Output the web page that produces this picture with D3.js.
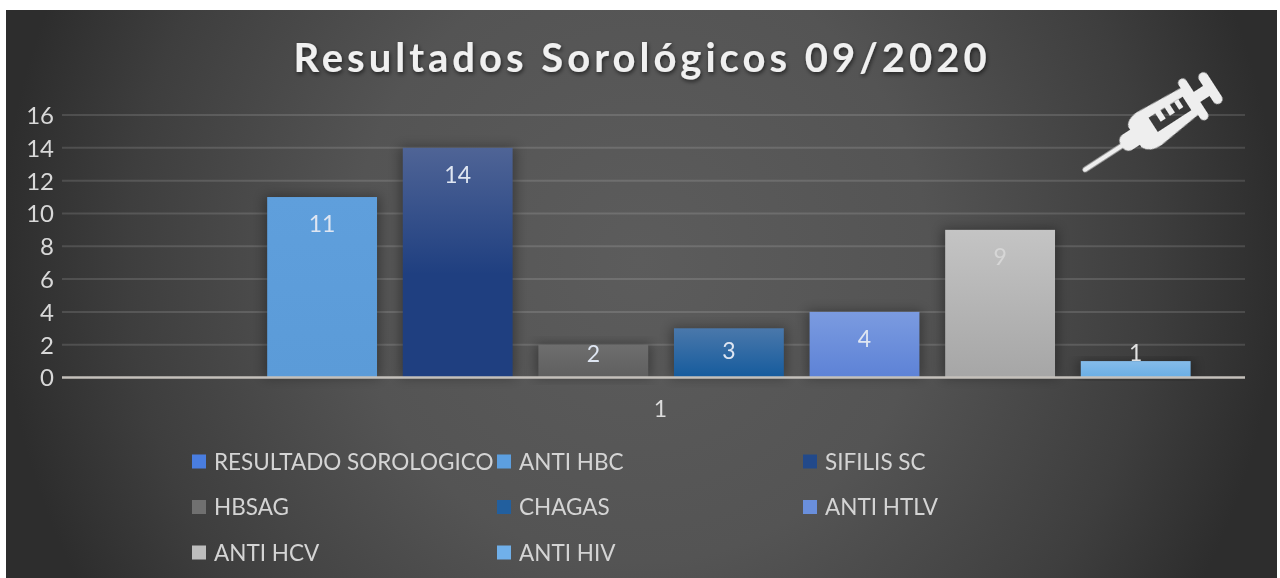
<!DOCTYPE html>
<html><head><meta charset="utf-8">
<script src="https://cdn.jsdelivr.net/npm/d3@7"></script>
<style>html,body{margin:0;padding:0;background:#fff;overflow:hidden}svg{display:block}text{font-family:Lato,"Open Sans",sans-serif}</style>
</head><body><div id="c"></div>
<script>
const titleText = "Resultados Sorológicos 09/2020";
const seriesNames = ["RESULTADO SOROLOGICO","ANTI HBC","SIFILIS SC","HBSAG","CHAGAS","ANTI HTLV","ANTI HCV","ANTI HIV"];
const seriesValues = [0,11,14,2,3,4,9,1];
const yTicks = [0,2,4,6,8,10,12,14,16];
const categoryLabel = "1";
const topColors = ["#4a7bd0","#5f9fdc","#4f6496","#6e6e6e","#4a78ab","#7b9be0","#c4c4c4","#85bcea"];
const bottomColors = ["#3a6cc4","#5b9bd8","#1f3f80","#5f5f5f","#155b9d","#5d82d6","#a6a6a6","#6aaee4"];
const legendColors = ["#4a7de0","#5b9fe0","#204a8a","#707070","#225f9e","#6a8fdc","#bdbdbd","#70b0ea"];

const W=1280,H=578;
const svg=d3.select("#c").append("svg").attr("width",W).attr("height",H);
const defs=svg.append("defs");
const card={x:6,y:10,w:1271,h:568};
const bg=defs.append("radialGradient").attr("id","bg").attr("gradientUnits","userSpaceOnUse")
 .attr("cx",640).attr("cy",260).attr("r",640).attr("gradientTransform","translate(640 260) scale(1 1.05) translate(-640 -260)");
[[0,"#5c5c5c"],[0.45,"#545454"],[0.8,"#3e3e3e"],[1,"#2d2d2d"]].forEach(([o,c])=>bg.append("stop").attr("offset",o).attr("stop-color",c));
const blur=defs.append("filter").attr("id","sh").attr("x","-20%").attr("y","-20%").attr("width","140%").attr("height","140%");
blur.append("feGaussianBlur").attr("stdDeviation",6);
const tsh=defs.append("filter").attr("id","tsh").attr("x","-5%").attr("y","-20%").attr("width","110%").attr("height","150%");
tsh.append("feDropShadow").attr("dx",1).attr("dy",2).attr("stdDeviation",2).attr("flood-color","#000").attr("flood-opacity",.6);
const soft=defs.append("filter").attr("id","soft").attr("x","-10%").attr("y","-30%").attr("width","120%").attr("height","160%");
soft.append("feGaussianBlur").attr("stdDeviation",.5);
seriesNames.forEach((n,i)=>{
 const g=defs.append("linearGradient").attr("id","g"+i).attr("x1",0).attr("y1",0).attr("x2",0).attr("y2",1);
 g.append("stop").attr("offset",0).attr("stop-color",topColors[i]);
 g.append("stop").attr("offset",i==2?.55:1).attr("stop-color",bottomColors[i]);
 if(i==2)g.append("stop").attr("offset",1).attr("stop-color",bottomColors[i]);
});
svg.append("rect").attr("x",card.x).attr("y",card.y).attr("width",card.w).attr("height",card.h).attr("fill","url(#bg)");

const y=d3.scaleLinear().domain([0,16]).range([377.5,115]);
const x=d3.scaleBand().domain(seriesNames).range([118.7,1203.5]).paddingInner(.19).paddingOuter(.095);
const plotL=62,plotR=1245;

const grid=svg.append("g");
grid.selectAll("line").data(yTicks.filter(d=>d>0)).join("line")
 .attr("x1",plotL).attr("x2",plotR).attr("y1",d=>y(d)).attr("y2",d=>y(d))
 .attr("stroke","#ffffff").attr("stroke-opacity",.13).attr("stroke-width",2);

const axisL=d3.axisLeft(y).tickValues(yTicks).tickSize(0).tickPadding(0);
const ga=svg.append("g").attr("transform","translate(54,0)").call(axisL);
ga.select(".domain").remove();
ga.selectAll("text").attr("fill","#d8d8d8").attr("font-size",24).attr("x",0).attr("dy","0.35em").attr("filter","url(#soft)");

const marks=seriesValues.map((v,i)=>({v,name:seriesNames[i],i}));
const bars=svg.append("g");
bars.selectAll("rect.s").data(marks).join("rect").attr("class","s")
 .attr("x",d=>x(d.name)-3).attr("width",x.bandwidth()+6)
 .attr("y",d=>y(d.v)-1).attr("height",d=>y(0)-y(d.v)+1).attr("fill","#000").attr("opacity",d=>d.v>0?.32:0).attr("filter","url(#sh)");
bars.selectAll("rect.b").data(marks).join("rect").attr("class","b")
 .attr("x",d=>x(d.name)).attr("width",x.bandwidth())
 .attr("y",d=>y(d.v)).attr("height",d=>y(0)-y(d.v)).attr("fill",d=>`url(#g${d.i})`);

svg.append("line").attr("x1",plotL).attr("x2",plotR).attr("y1",y(0)).attr("y2",y(0)).attr("stroke","#c4c0bb").attr("stroke-width",2.4);

const labelShift=v=>v===1?-8:v===2?9:v===3?23:27;
svg.append("g").selectAll("text").data(marks.filter(d=>d.v>0)).join("text")
 .attr("x",d=>x(d.name)+x.bandwidth()/2)
 .attr("y",d=>y(d.v)+labelShift(d.v)).attr("dy","0.35em")
 .attr("text-anchor","middle").attr("font-size",23).attr("filter","url(#soft)")
 .attr("fill",d=>d.v===9?"#d6d6d6":d.v===1?"#e2e2e2":"#dfe6f2").text(d=>d.v);

svg.append("text").attr("x",660.5).attr("y",409).attr("dy","0.35em").attr("text-anchor","middle").attr("font-size",23).attr("fill","#dcdcdc").attr("filter","url(#soft)").text(categoryLabel);

svg.append("text").attr("x",642).attr("y",71.5).attr("text-anchor","middle").attr("font-size",40).attr("font-weight",700)
 .attr("letter-spacing",4).attr("fill","#f0f0f0").attr("filter","url(#tsh)").text(titleText);

const legCols=[192,497,803];
const legRows=[461.5,507,552.5];
const leg=svg.append("g").attr("filter","url(#soft)");
seriesNames.forEach((n,i)=>{
 const cx=legCols[i%3],cy=legRows[Math.floor(i/3)];
 leg.append("rect").attr("x",cx).attr("y",cy-7).attr("width",14).attr("height",14).attr("fill",legendColors[i]);
 leg.append("text").attr("x",cx+22).attr("y",cy).attr("dy","0.36em").attr("font-size",22.5).attr("fill","#d4d4d4").text(n);
});

// syringe icon: origin at the needle tip, x axis runs towards the plunger
const ic=svg.append("g").attr("transform","translate(1083,171) rotate(-33)").attr("fill","#eeeeee").attr("filter","url(#soft)");
ic.append("rect").attr("x",0).attr("y",-2.5).attr("width",56).attr("height",5).attr("rx",2.5);
ic.append("rect").attr("x",46).attr("y",-9).attr("width",26).attr("height",18).attr("rx",7);
ic.append("path").attr("fill-rule","evenodd").attr("d","M62,-12 Q64,-19 76,-20 L132,-16 L132,15 L80,21 Q66,21 62,12 Z M84,-9 L124,-8 L124,8 L84,8 Z");
ic.append("path").attr("d","M92,-9 h6 v10 h-6 Z M103,-9 h6 v10 h-6 Z M114,-8 h5 v9 h-5 Z");
ic.append("rect").attr("x",127).attr("y",-24).attr("width",9).attr("height",48).attr("rx",4.5);
ic.append("rect").attr("x",132).attr("y",-6).attr("width",20).attr("height",12);
ic.append("rect").attr("x",147).attr("y",-18).attr("width",10).attr("height",36).attr("rx",5);
</script></body></html>
